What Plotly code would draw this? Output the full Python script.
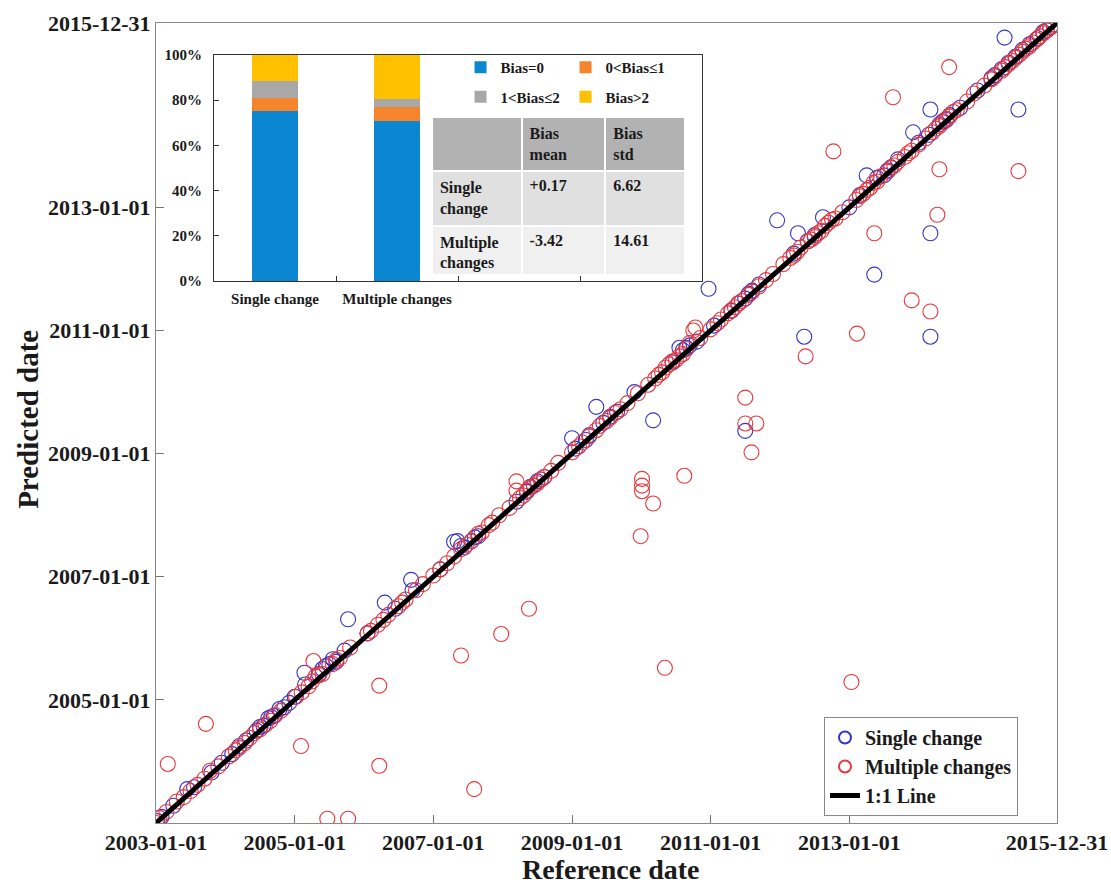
import pandas as pd
import plotly.graph_objects as go

# ---------------- data (decimal years) ----------------
single_ref = [2003.02, 2003.08, 2003.45, 2003.55, 2003.80, 2003.95, 2004.10, 2004.30, 2004.45, 2004.55,
              2004.62, 2004.70, 2004.78, 2004.85, 2004.92, 2005.00, 2005.14, 2005.15, 2005.35, 2005.45,
              2005.50, 2005.60, 2005.72, 2005.77, 2006.05, 2006.30, 2006.45, 2006.68, 2006.70, 2007.10,
              2007.30, 2007.35, 2007.45, 2007.55, 2007.65, 2008.20, 2008.35, 2008.45, 2008.55, 2008.60,
              2009.00, 2009.05, 2009.20, 2009.35, 2009.45, 2009.65, 2009.90, 2010.17, 2010.45, 2010.55,
              2010.65, 2010.80, 2010.97, 2011.05, 2011.30, 2011.50, 2011.50, 2011.60, 2011.70, 2011.96,
              2012.20, 2012.26, 2012.35, 2012.62, 2013.00, 2013.15, 2013.25, 2013.36, 2013.50, 2013.60,
              2013.92, 2014.00, 2014.15, 2014.17, 2014.17, 2014.17, 2014.30, 2014.40, 2014.60, 2014.85,
              2015.05, 2015.20, 2015.24, 2015.40, 2015.44, 2015.60, 2015.72, 2015.80, 2015.95,
              2003.25, 2004.20, 2004.50, 2004.66, 2005.40, 2005.55, 2007.40, 2007.60, 2008.40, 2008.50,
              2009.25, 2009.55, 2010.60, 2010.70, 2011.40, 2011.55, 2012.40, 2012.50, 2013.40, 2013.55,
              2013.70, 2014.35, 2014.45, 2015.10, 2015.30, 2015.50, 2015.85, 2015.90]
single_pred = [2003.03, 2003.10, 2003.55, 2003.58, 2003.82, 2003.98, 2004.12, 2004.34, 2004.50, 2004.58,
               2004.70, 2004.74, 2004.85, 2004.88, 2004.95, 2005.05, 2005.44, 2005.25, 2005.42, 2005.55,
               2005.58, 2005.62, 2005.80, 2006.31, 2006.08, 2006.58, 2006.48, 2006.95, 2006.78, 2007.12,
               2007.57, 2007.58, 2007.48, 2007.58, 2007.66, 2008.22, 2008.38, 2008.48, 2008.58, 2008.62,
               2009.25, 2009.08, 2009.22, 2009.76, 2009.50, 2009.68, 2010.00, 2009.54, 2010.48, 2010.72,
               2010.72, 2010.82, 2011.68, 2011.08, 2011.32, 2011.52, 2009.37, 2011.65, 2011.75, 2012.79,
               2012.25, 2012.58, 2010.90, 2012.84, 2013.00, 2013.20, 2013.52, 2011.91, 2013.52, 2013.65,
               2014.22, 2014.05, 2014.18, 2014.59, 2012.58, 2010.90, 2014.35, 2014.42, 2014.62, 2014.90,
               2015.10, 2015.25, 2015.76, 2015.45, 2014.59, 2015.65, 2015.75, 2015.85, 2015.97,
               2003.28, 2004.25, 2004.56, 2004.72, 2005.50, 2005.66, 2007.50, 2007.64, 2008.46, 2008.55,
               2009.30, 2009.60, 2010.68, 2010.76, 2011.44, 2011.60, 2012.45, 2012.55, 2013.48, 2013.60,
               2013.78, 2014.40, 2014.50, 2015.15, 2015.35, 2015.56, 2015.88, 2015.93]

multi_ref = [2003.00, 2003.05, 2003.17, 2003.30, 2003.40, 2003.60, 2003.70, 2003.72, 2003.78, 2003.90,
             2004.05, 2004.20, 2004.35, 2004.50, 2004.65, 2004.80, 2005.02, 2005.09, 2005.20, 2005.27,
             2005.30, 2005.40, 2005.47, 2005.55, 2005.65, 2005.77, 2005.80, 2006.05, 2006.20, 2006.22,
             2006.22, 2006.35, 2006.50, 2006.60, 2006.75, 2006.85, 2007.00, 2007.20, 2007.40, 2007.40,
             2007.55, 2007.59, 2007.70, 2007.85, 2007.95, 2007.98, 2008.10, 2008.20, 2008.20, 2008.30,
             2008.38, 2008.40, 2008.50, 2008.60, 2008.70, 2008.80, 2009.00, 2009.10, 2009.25, 2009.40,
             2009.55, 2009.70, 2009.80, 2009.95, 2009.99, 2010.01, 2010.01, 2010.01, 2010.10, 2010.17,
             2010.20, 2010.30, 2010.34, 2010.40, 2010.50, 2010.60, 2010.62, 2010.70, 2010.78, 2010.85,
             2011.00, 2011.10, 2011.25, 2011.35, 2011.45, 2011.50, 2011.50, 2011.55, 2011.59, 2011.66,
             2011.70, 2011.80, 2011.90, 2012.05, 2012.15, 2012.25, 2012.37, 2012.40, 2012.50, 2012.60,
             2012.70, 2012.77, 2012.80, 2012.90, 2013.03, 2013.10, 2013.11, 2013.20, 2013.30, 2013.36,
             2013.40, 2013.55, 2013.63, 2013.65, 2013.80, 2013.90, 2013.90, 2014.00, 2014.10, 2014.17,
             2014.20, 2014.27, 2014.30, 2014.30, 2014.44, 2014.45, 2014.55, 2014.70, 2014.80, 2014.95,
             2015.05, 2015.20, 2015.35, 2015.44, 2015.45, 2015.55, 2015.65, 2015.75, 2015.85, 2015.95,
             2003.15, 2003.50, 2004.15, 2004.28, 2004.42, 2004.58, 2004.72, 2005.10, 2005.25, 2005.35,
             2005.60, 2006.10, 2006.28, 2006.55, 2007.10, 2007.30, 2007.48, 2007.65, 2007.80, 2008.25,
             2008.35, 2008.45, 2008.55, 2009.15, 2009.35, 2009.50, 2009.62, 2010.25, 2010.35, 2010.45,
             2010.55, 2010.65, 2010.75, 2011.15, 2011.30, 2011.40, 2011.60, 2012.20, 2012.30, 2012.45,
             2012.55, 2012.65, 2012.75, 2013.15, 2013.25, 2013.35, 2013.45, 2013.60, 2013.70, 2013.85,
             2014.25, 2014.35, 2014.40, 2014.50, 2015.10, 2015.25, 2015.30, 2015.40, 2015.50, 2015.60,
             2015.70, 2015.80, 2015.90]
multi_pred = [2003.00, 2003.08, 2003.96, 2003.35, 2003.42, 2003.62, 2003.72, 2004.61, 2003.85, 2003.92,
              2004.08, 2004.22, 2004.38, 2004.52, 2004.66, 2004.82, 2005.05, 2004.25, 2005.22, 2005.63,
              2005.38, 2005.42, 2003.07, 2005.58, 2005.68, 2003.07, 2005.85, 2006.08, 2006.22, 2005.23,
              2003.93, 2006.38, 2006.52, 2006.63, 2006.78, 2006.88, 2007.02, 2007.22, 2007.45, 2005.72,
              2007.58, 2003.55, 2007.72, 2007.88, 2008.00, 2006.07, 2008.12, 2008.55, 2008.40, 2008.32,
              2006.48, 2008.45, 2008.52, 2008.62, 2008.72, 2008.85, 2009.02, 2009.12, 2009.28, 2009.45,
              2009.58, 2009.72, 2009.82, 2009.98, 2007.66, 2008.59, 2008.48, 2008.39, 2010.12, 2008.19,
              2010.22, 2010.32, 2005.52, 2010.45, 2010.52, 2010.62, 2008.64, 2010.80, 2011.05, 2010.88,
              2011.02, 2011.12, 2011.28, 2011.38, 2011.48, 2009.91, 2009.49, 2011.58, 2009.02, 2009.49,
              2011.72, 2011.82, 2011.92, 2012.08, 2012.18, 2012.28, 2010.58, 2012.45, 2012.52, 2012.62,
              2012.75, 2013.91, 2012.82, 2012.92, 2005.29, 2013.12, 2010.95, 2013.22, 2013.32, 2012.58,
              2013.42, 2013.58, 2014.79, 2013.68, 2013.82, 2013.92, 2011.49, 2014.02, 2014.12, 2011.31,
              2014.22, 2012.88, 2014.32, 2013.62, 2015.28, 2014.48, 2014.58, 2014.72, 2014.85, 2014.98,
              2015.08, 2015.22, 2015.38, 2013.59, 2015.48, 2015.58, 2015.68, 2015.78, 2015.88, 2015.97,
              2003.18, 2003.52, 2004.18, 2004.30, 2004.46, 2004.60, 2004.75, 2005.12, 2005.30, 2005.40,
              2005.65, 2006.12, 2006.30, 2006.58, 2007.12, 2007.33, 2007.52, 2007.70, 2007.84, 2008.28,
              2008.40, 2008.48, 2008.58, 2009.18, 2009.38, 2009.53, 2009.66, 2010.28, 2010.40, 2010.50,
              2010.58, 2010.70, 2011.00, 2011.18, 2011.33, 2011.44, 2011.63, 2012.22, 2012.35, 2012.48,
              2012.58, 2012.70, 2012.80, 2013.18, 2013.28, 2013.40, 2013.50, 2013.64, 2013.74, 2013.88,
              2014.28, 2014.38, 2014.44, 2014.55, 2015.13, 2015.28, 2015.33, 2015.43, 2015.53, 2015.62,
              2015.73, 2015.83, 2015.92]

line_dates = ["2003-01-01", "2015-12-31"]
tick_dates = ["2003-01-01", "2005-01-01", "2007-01-01", "2009-01-01", "2011-01-01", "2013-01-01", "2015-12-31"]
ytick_dates = ["2005-01-01", "2007-01-01", "2009-01-01", "2011-01-01", "2013-01-01", "2015-12-31"]

bar_groups = ["Single change", "Multiple changes"]
bias_names = ["Bias=0", "0<Bias\u22641", "1<Bias\u22642", "Bias>2"]
bias_values = [[75.4, 70.8], [5.4, 6.3], [7.7, 3.6], [11.5, 19.3]]
bias_colors = ["#0b87d2", "#f5842c", "#a8a8a8", "#ffc000"]
pct_ticks = [0, 20, 40, 60, 80, 100]

table_header = ["", "Bias<br>mean", "Bias<br>std"]
table_rows = ["Single<br>change", "Multiple<br>changes"]
bias_mean = ["+0.17", "-3.42"]
bias_std = ["6.62", "14.61"]


def to_date(v):
    y = int(v)
    start = pd.Timestamp(f"{y}-01-01")
    end = pd.Timestamp(f"{y + 1}-01-01")
    return start + (end - start) * (v - y)


FONT = "Liberation Serif, Times New Roman, serif"
BLUE = "#3535c8"
RED = "#e8383d"
TXT = "#1a1a1a"

fig = go.Figure()

fig.add_trace(go.Scatter(
    x=[to_date(v) for v in single_ref], y=[to_date(v) for v in single_pred],
    mode="markers", name="Single change",
    marker=dict(symbol="circle-open", size=15, color=BLUE, line=dict(width=1.1)),
))
fig.add_trace(go.Scatter(
    x=[to_date(v) for v in multi_ref], y=[to_date(v) for v in multi_pred],
    mode="markers", name="Multiple changes",
    marker=dict(symbol="circle-open", size=15, color=RED, line=dict(width=1.1)),
))
fig.add_trace(go.Scatter(
    x=line_dates, y=line_dates, mode="lines", name="1:1 Line",
    line=dict(color="black", width=5),
))

# inset stacked bars
for i, (nm, vals, col) in enumerate(zip(bias_names, bias_values, bias_colors)):
    fig.add_trace(go.Bar(
        x=[0, 1], y=vals, name=nm, marker=dict(color=col, line=dict(width=0)),
        width=0.37, xaxis="x2", yaxis="y2",
        legend="legend2" if i < 2 else "legend3",
    ))

# table
fig.add_trace(go.Table(
    domain=dict(x=[0.3063, 0.5882], y=[0.686, 0.8825]),
    columnwidth=[90, 84, 80],
    header=dict(values=table_header, fill_color="#b2b2b2", line=dict(color="white", width=2),
                align="left", height=47, font=dict(family=FONT, size=16, color=TXT, weight="bold")),
    cells=dict(values=[table_rows, bias_mean, bias_std],
               fill_color=[["#e0e0e0", "#f0f0f0"]],
               line=dict(color="white", width=2), align="left", height=49,
               font=dict(family=FONT, size=16, color=TXT, weight="bold")),
))

axis_font = dict(family=FONT, size=22, color=TXT, weight="bold")
small_font = dict(family=FONT, size=15, color=TXT, weight="bold")

fig.update_layout(
    width=1111, height=885,
    margin=dict(l=156, r=54, t=23, b=62),
    plot_bgcolor="white", paper_bgcolor="white",
    barmode="stack",
    font=dict(family=FONT, color=TXT),
    xaxis=dict(type="date", range=[line_dates[0], line_dates[1]], tickmode="array",
               tickvals=tick_dates, ticktext=tick_dates, ticks="inside", ticklen=8,
               tickcolor="#777", showline=True, linecolor="#888", linewidth=1, mirror=True,
               showgrid=False, zeroline=False, tickfont=axis_font, automargin=False),
    yaxis=dict(type="date", range=[line_dates[0], line_dates[1]], tickmode="array",
               tickvals=ytick_dates, ticktext=ytick_dates, ticks="inside", ticklen=8,
               tickcolor="#777", showline=True, linecolor="#888", linewidth=1, mirror=True,
               showgrid=False, zeroline=False, tickfont=axis_font, automargin=False),
    xaxis2=dict(domain=[0.0644, 0.606], anchor="y2", range=[-0.5, 3.5], tickmode="array",
                tickvals=[0, 1], ticktext=bar_groups, ticks="", showline=True, linecolor="#333",
                linewidth=1, mirror=True, showgrid=False, zeroline=False, ticklabelstandoff=4,
                minor=dict(tickvals=[0.5, 1.5, 2.5], ticks="inside", ticklen=5, tickcolor="#333"),
                tickfont=small_font),
    yaxis2=dict(domain=[0.6775, 0.96], anchor="x2", range=[0, 100], tickmode="array",
                tickvals=pct_ticks, ticktext=[f"{v}%" for v in pct_ticks], ticks="inside",
                ticklen=5, tickcolor="#333", showline=True, linecolor="#333", linewidth=1,
                mirror=True, showgrid=False, zeroline=False, tickfont=small_font,
                ticklabelstandoff=8),
    legend=dict(x=0.7414, y=0.1325, xanchor="left", yanchor="top", bgcolor="white",
                bordercolor="#888", borderwidth=1, itemsizing="constant",
                font=dict(family=FONT, size=20, color=TXT, weight="bold"),
                tracegroupgap=0, entrywidth=188),
    legend2=dict(x=0.338, y=0.965, xanchor="left", yanchor="top", orientation="h",
                 entrywidth=60, bgcolor="rgba(0,0,0,0)", traceorder="normal",
                 font=small_font),
    legend3=dict(x=0.338, y=0.928, xanchor="left", yanchor="top", orientation="h",
                 entrywidth=60, bgcolor="rgba(0,0,0,0)", traceorder="normal",
                 font=small_font),
    annotations=[
        dict(text="Reference date", x=0.505, y=-0.058, xref="paper", yref="paper",
             xanchor="center", yanchor="middle", showarrow=False,
             font=dict(family=FONT, size=28, color=TXT, weight="bold")),
        dict(text="Predicted date", x=-0.142, y=0.504, xref="paper", yref="paper",
             xanchor="center", yanchor="middle", showarrow=False, textangle=-90,
             font=dict(family=FONT, size=29, color=TXT, weight="bold")),
    ],
)

fig.write_html("out.html", config={"displayModeBar": False},
               post_script="document.body.style.margin='0';")
